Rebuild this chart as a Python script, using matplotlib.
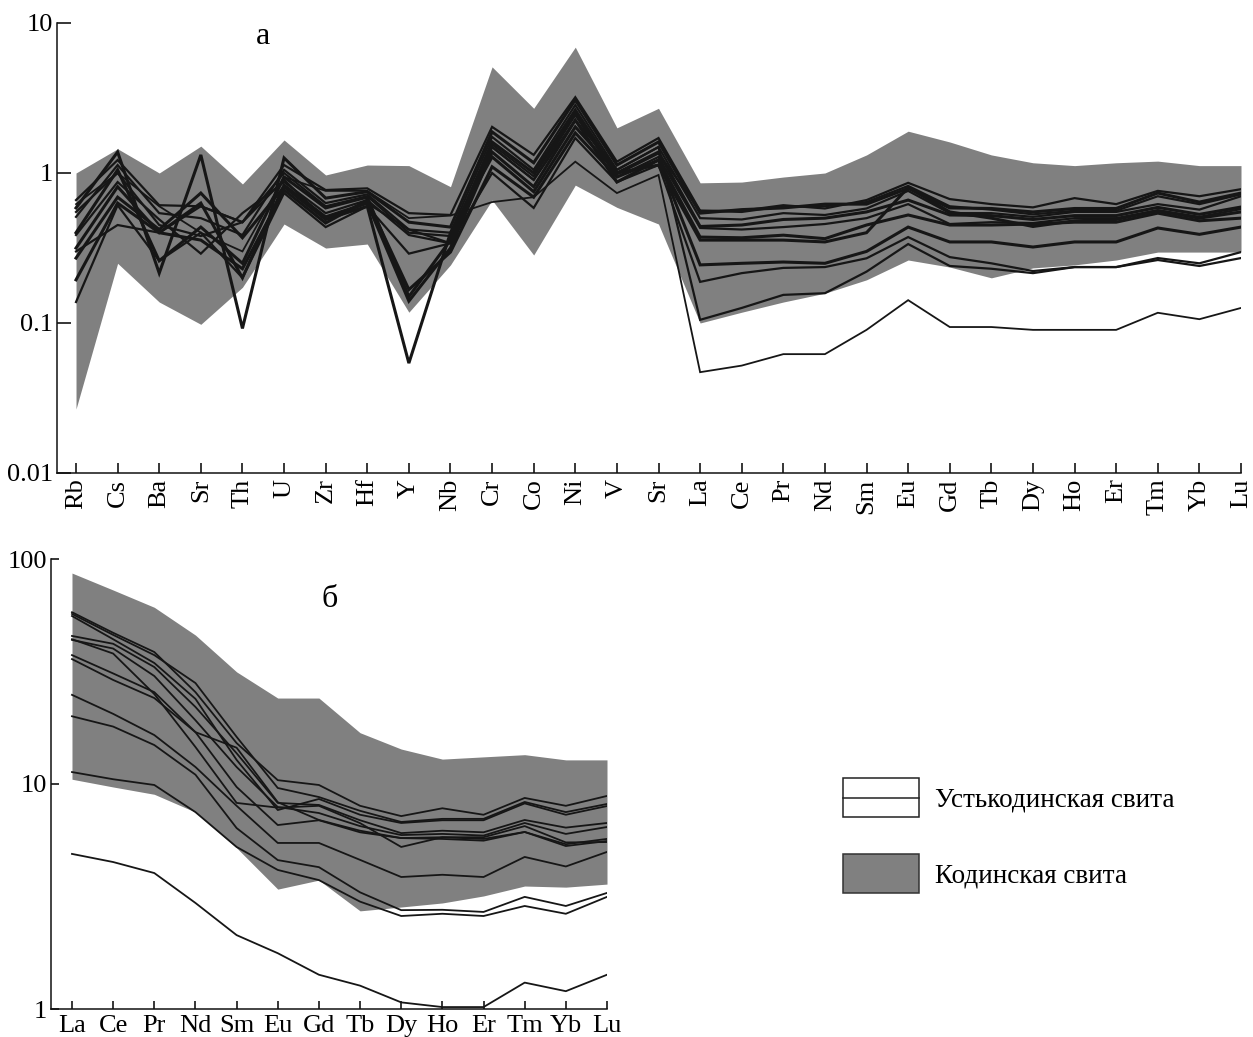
import matplotlib
matplotlib.use('Agg')
import matplotlib.pyplot as plt
from matplotlib.patches import Rectangle
from matplotlib.ticker import NullLocator

plt.rcParams['font.family'] = ['Liberation Serif', 'DejaVu Serif']

# --- top diagram (a): spider plot ---
top_elements = ['Rb', 'Cs', 'Ba', 'Sr', 'Th', 'U', 'Zr', 'Hf', 'Y', 'Nb', 'Cr', 'Co', 'Ni', 'V', 'Sr',
                'La', 'Ce', 'Pr', 'Nd', 'Sm', 'Eu', 'Gd', 'Tb', 'Dy', 'Ho', 'Er', 'Tm', 'Yb', 'Lu']

# Кодинская свита envelope
top_upper = [1.0, 1.45, 1.0, 1.51, 0.845, 1.66, 0.97, 1.13, 1.12, 0.81, 5.1, 2.7, 6.9, 2.0, 2.7,
             0.86, 0.87, 0.94, 1.0, 1.32, 1.9, 1.61, 1.32, 1.17, 1.12, 1.17, 1.2, 1.12, 1.12]
top_lower = [0.0267, 0.25, 0.138, 0.098, 0.173, 0.457, 0.316, 0.336, 0.118, 0.244, 0.66, 0.284, 0.83, 0.59, 0.457,
             0.1, 0.118, 0.138, 0.158, 0.194, 0.263, 0.236, 0.2, 0.233, 0.244, 0.263, 0.297, 0.297, 0.297]

# Устькодинская свита samples
u1 = [0.66, 1.22, 0.61, 0.60, 0.47, 1.13, 0.77, 0.79, 0.54, 0.525, 2.03, 1.32, 3.20, 1.19, 1.71,
      0.56, 0.56, 0.61, 0.58, 0.66, 0.86, 0.67, 0.62, 0.59, 0.68, 0.62, 0.76, 0.70, 0.78]
u2 = [0.585, 1.38, 0.215, 1.32, 0.092, 1.26, 0.68, 0.75, 0.47, 0.436, 1.88, 1.17, 3.07, 1.13, 1.61,
      0.54, 0.57, 0.585, 0.62, 0.62, 0.79, 0.585, 0.58, 0.55, 0.58, 0.58, 0.735, 0.64, 0.735]
u3 = [0.51, 1.13, 0.54, 0.50, 0.386, 1.05, 0.63, 0.72, 0.42, 0.40, 1.74, 1.05, 2.84, 1.05, 1.49,
      0.50, 0.49, 0.54, 0.525, 0.58, 0.76, 0.54, 0.54, 0.51, 0.55, 0.55, 0.62, 0.57, 0.70]
u4 = [0.40, 1.05, 0.26, 0.436, 0.25, 0.94, 0.585, 0.69, 0.15, 0.357, 1.61, 1.0, 2.63, 1.0, 1.38,
      0.44, 0.45, 0.49, 0.50, 0.55, 0.66, 0.525, 0.52, 0.49, 0.52, 0.52, 0.59, 0.53, 0.593]
u5 = [0.386, 0.87, 0.49, 0.29, 0.54, 0.87, 0.54, 0.66, 0.386, 0.34, 1.49, 0.90, 2.43, 0.94, 1.28,
      0.43, 0.42, 0.436, 0.457, 0.50, 0.62, 0.457, 0.47, 0.464, 0.50, 0.50, 0.565, 0.51, 0.575]
u6 = [0.316, 0.81, 0.40, 0.63, 0.20, 0.83, 0.51, 0.63, 0.14, 0.316, 1.38, 0.81, 2.25, 0.87, 1.22,
      0.374, 0.37, 0.385, 0.365, 0.45, 0.525, 0.45, 0.45, 0.457, 0.47, 0.47, 0.54, 0.48, 0.50]
u7 = [0.271, 0.69, 0.42, 0.735, 0.37, 0.81, 0.49, 0.60, 0.054, 0.40, 1.28, 0.75, 2.03, 1.0, 1.13,
      0.357, 0.357, 0.357, 0.347, 0.40, 0.80, 0.55, 0.50, 0.44, 0.48, 0.49, 0.56, 0.50, 0.55]
u8 = [0.194, 0.63, 0.40, 0.357, 0.23, 0.77, 0.464, 0.66, 0.167, 0.297, 1.10, 0.69, 1.85, 0.94, 1.22,
      0.244, 0.25, 0.255, 0.25, 0.30, 0.436, 0.347, 0.347, 0.321, 0.347, 0.347, 0.43, 0.39, 0.436]
u9 = [0.138, 0.61, 0.26, 0.40, 0.20, 0.735, 0.436, 0.60, 0.29, 0.34, 1.0, 0.585, 1.71, 0.87, 1.13,
      0.188, 0.215, 0.233, 0.236, 0.27, 0.374, 0.275, 0.25, 0.222, 0.236, 0.236, 0.271, 0.25, 0.297]
u10 = [0.30, 0.45, 0.40, 0.60, 0.47, 0.90, 0.49, 0.63, 0.42, 0.34, 1.49, 0.90, 2.25, 1.05, 1.49,
       0.105, 0.126, 0.154, 0.158, 0.22, 0.336, 0.24, 0.23, 0.215, 0.236, 0.236, 0.263, 0.24, 0.271]
u11 = [0.62, 1.0, 0.60, 0.40, 0.30, 0.94, 0.76, 0.76, 0.50, 0.52, 0.64, 0.69, 1.19, 0.735, 0.97,
       0.047, 0.052, 0.062, 0.062, 0.09, 0.142, 0.094, 0.094, 0.09, 0.09, 0.09, 0.117, 0.106, 0.126]
u12 = [0.55, 1.0, 0.45, 0.38, 0.47, 1.0, 0.60, 0.70, 0.40, 0.38, 1.55, 0.95, 2.5, 0.98, 1.35,
       0.56, 0.55, 0.60, 0.60, 0.64, 0.82, 0.60, 0.57, 0.53, 0.56, 0.56, 0.70, 0.62, 0.72]
top_lines = [u1, u2, u3, u4, u5, u6, u7, u8, u9, u10, u11, u12]
top_widths = [1.6, 2.2, 1.6, 2.2, 1.6, 2.2, 2.2, 2.2, 1.6, 1.6, 1.3, 1.6]

# --- bottom diagram (б): chondrite-normalised REE ---
ree = ['La', 'Ce', 'Pr', 'Nd', 'Sm', 'Eu', 'Gd', 'Tb', 'Dy', 'Ho', 'Er', 'Tm', 'Yb', 'Lu']
bot_upper = [86.6, 72.8, 61, 45.9, 31.5, 24.1, 24.1, 16.9, 14.3, 12.9, 13.2, 13.5, 12.8, 12.8]
bot_lower = [10.5, 9.7, 9.0, 7.5, 5.2, 3.41, 3.74, 2.73, 2.84, 2.96, 3.18, 3.52, 3.48, 3.59]

b1 = [58, 47, 38.6, 25.6, 15.2, 10.4, 9.9, 8.0, 7.2, 7.8, 7.3, 8.67, 8.0, 8.85]
b2 = [57, 46, 37.4, 28.1, 16.2, 9.6, 8.75, 7.6, 6.78, 7.0, 7.0, 8.32, 7.5, 8.15]
b3 = [55.8, 44, 34.5, 23.9, 12.8, 7.66, 8.58, 7.3, 6.71, 6.9, 6.9, 8.2, 7.3, 7.98]
b4 = [45.5, 42, 33.1, 22, 13.7, 8.24, 8.07, 6.9, 6.05, 6.2, 6.1, 6.92, 6.4, 6.71]
b5 = [43.7, 40, 30.2, 19.2, 11.9, 7.9, 7.43, 6.5, 5.93, 6.0, 5.9, 6.71, 6.0, 6.44]
b6 = [37.4, 31, 25.6, 17, 14.5, 8.3, 6.92, 6.2, 5.75, 5.8, 5.7, 6.12, 5.4, 5.7]
b7 = [35.9, 29, 24.1, 17, 9.7, 6.57, 6.9, 6.1, 5.75, 5.7, 5.6, 6.12, 5.3, 5.58]
b8 = [44, 38, 25.1, 14.6, 8.24, 7.85, 8.0, 6.7, 5.25, 5.8, 5.8, 6.5, 5.5, 5.52]
b9 = [24.9, 20.5, 16.5, 11.9, 8.0, 5.47, 5.47, 4.6, 3.86, 3.95, 3.86, 4.74, 4.3, 4.99]
b10 = [20, 18, 14.9, 11.0, 6.37, 4.59, 4.27, 3.3, 2.75, 2.76, 2.7, 3.15, 2.87, 3.28]
b11 = [11.3, 10.5, 9.9, 7.5, 5.25, 4.15, 3.74, 3.0, 2.59, 2.65, 2.59, 2.87, 2.65, 3.15]
b12 = [4.89, 4.5, 4.02, 2.96, 2.13, 1.77, 1.42, 1.27, 1.07, 1.02, 1.02, 1.31, 1.2, 1.42]
bot_lines = [b1, b2, b3, b4, b5, b6, b7, b8, b9, b10, b11, b12]

legend_labels = ['Устькодинская свита', 'Кодинская свита']

GRAY = '#808080'
INK = '#161616'
W, H = 1253, 1037

fig = plt.figure(figsize=(W / 100, H / 100), dpi=100)


def style_axes(ax, fs, ticklen_x, ticklen_y):
    ax.set_yscale('log')
    ax.yaxis.set_minor_locator(NullLocator())
    for s in ['top', 'right']:
        ax.spines[s].set_visible(False)
    for s in ['left', 'bottom']:
        ax.spines[s].set_linewidth(1.1)
        ax.spines[s].set_color('#111111')
    ax.tick_params(axis='x', direction='in', length=ticklen_x, width=1.1, labelsize=fs, pad=4)
    ax.tick_params(axis='y', direction='in', length=ticklen_y, width=1.1, labelsize=fs, pad=3)


# top panel
ax1 = fig.add_axes([57 / W, 1 - 473 / H, (1241 - 57) / W, 450 / H])
x1 = list(range(len(top_elements)))
ax1.fill_between(x1, top_lower, top_upper, color=GRAY, lw=0, zorder=1)
for vals, lw in zip(top_lines, top_widths):
    ax1.plot(x1, vals, color=INK, lw=lw, zorder=2, solid_joinstyle='miter')
style_axes(ax1, 19, 7, 10)
ax1.set_xlim(-0.457, 28)
ax1.set_ylim(0.01, 10)
ax1.set_yticks([0.01, 0.1, 1, 10])
ax1.set_yticklabels(['0.01', '0.1', '1', '10'])
ax1.set_xticks(x1)
ax1.set_xticklabels(top_elements, rotation=90)
ax1.text(0.174, 0.969, 'а', transform=ax1.transAxes, fontsize=23, ha='center', va='center')

# bottom panel
ax2 = fig.add_axes([51 / W, 1 - 1009 / H, (607 - 51) / W, 450 / H])
x2 = list(range(len(ree)))
ax2.fill_between(x2, bot_lower, bot_upper, color=GRAY, lw=0, zorder=1)
for vals in bot_lines:
    ax2.plot(x2, vals, color=INK, lw=1.3, zorder=2)
style_axes(ax2, 19, 6, 6)
ax2.set_xlim(-0.51, 13)
ax2.set_ylim(1, 100)
ax2.set_yticks([1, 10, 100])
ax2.set_yticklabels(['1', '10', '100'])
ax2.set_xticks(x2)
ax2.set_xticklabels(ree)
ax2.text(0.502, 0.909, 'б', transform=ax2.transAxes, fontsize=23, ha='center', va='center')

# legend drawn in pixel space
lg = fig.add_axes([0, 0, 1, 1])
lg.set_xlim(0, W)
lg.set_ylim(H, 0)
lg.axis('off')
lg.add_patch(Rectangle((843, 778), 76, 39, facecolor='white', edgecolor='#222222', lw=1.1))
lg.plot([843, 919], [798, 798], color='#222222', lw=1.1)
lg.add_patch(Rectangle((843, 854), 76, 39, facecolor=GRAY, edgecolor='#333333', lw=1.1))
lg.text(935, 806, legend_labels[0], fontsize=19.5, va='baseline', ha='left')
lg.text(935, 882, legend_labels[1], fontsize=19.5, va='baseline', ha='left')

plt.savefig('out.png', dpi=100)
